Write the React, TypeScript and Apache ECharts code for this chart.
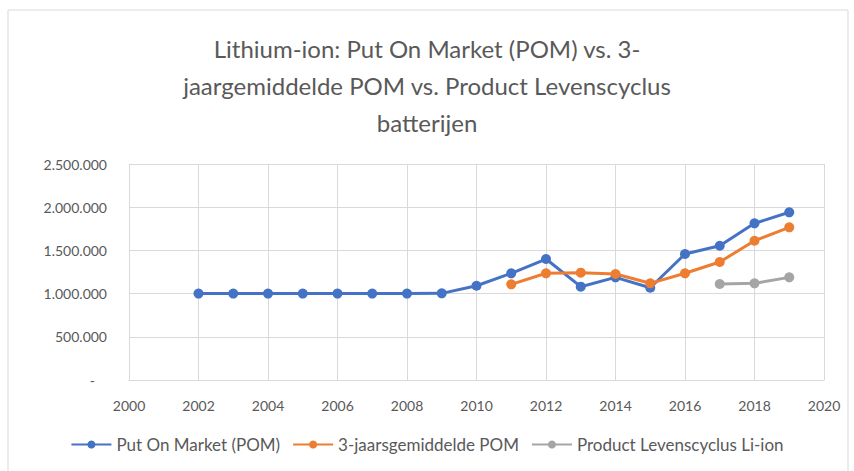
import React, { useEffect, useRef } from "react";
import * as echarts from "echarts";

const titleText = "Lithium-ion: Put On Market (POM) vs. 3-\njaargemiddelde POM vs. Product Levenscyclus\nbatterijen";

const pomYears = [2002, 2003, 2004, 2005, 2006, 2007, 2008, 2009, 2010, 2011, 2012, 2013, 2014, 2015, 2016, 2017, 2018, 2019];
const pomValues = [1000000, 1000000, 1000000, 1000000, 1000000, 1000000, 1000000, 1003000, 1091000, 1235000, 1400000, 1080000, 1188000, 1068000, 1458000, 1554000, 1813000, 1941000];

const avgYears = [2011, 2012, 2013, 2014, 2015, 2016, 2017, 2018, 2019];
const avgValues = [1107000, 1235000, 1242000, 1227000, 1119000, 1235000, 1366000, 1612000, 1767000];

const lifeYears = [2017, 2018, 2019];
const lifeValues = [1111000, 1119000, 1188000];

const seriesNames = ["Put On Market (POM)", "3-jaarsgemiddelde POM", "Product Levenscyclus Li-ion"];

const FONT = "Lato";
const TEXT = "#595959";
const GRID = "#d9d9d9";

function fmt(v: number): string {
  if (v === 0) return "{dash|-}";
  return String(Math.round(v)).replace(/\B(?=(\d{3})+(?!\d))/g, ".");
}

export default function App() {
  const ref = useRef<HTMLDivElement>(null);
  useEffect(() => {
    if (!ref.current) return;
    const chart = echarts.init(ref.current, undefined, { renderer: "svg" });
    const pair = (xs: number[], ys: number[]) => xs.map((x, i) => [x, ys[i]]);
    const mk = (name: string, color: string, data: number[][]) => ({
      name,
      type: "line",
      data,
      symbol: "circle",
      symbolSize: 10,
      lineStyle: { color, width: 3 },
      itemStyle: { color },
      z: 3,
    });
    chart.setOption({
      animation: false,
      backgroundColor: "#ffffff",
      textStyle: { fontFamily: FONT },
      graphic: [
        {
          type: "rect",
          shape: { x: 8, y: 10, width: 840, height: 470 },
          style: { fill: "none", stroke: GRID, lineWidth: 1 },
          silent: true,
        },
      ],
      title: {
        text: titleText,
        left: "center",
        top: 25,
        textStyle: { fontFamily: FONT, fontSize: 24, fontWeight: "normal", color: TEXT, lineHeight: 37 },
      },
      grid: { left: 129, right: 30, top: 164, bottom: 91 },
      xAxis: {
        type: "value",
        min: 2000,
        max: 2020,
        interval: 2,
        axisLine: { show: true, lineStyle: { color: GRID, width: 1 } },
        axisTick: { show: false },
        splitLine: { show: true, lineStyle: { color: GRID, width: 1 } },
        axisLabel: { color: TEXT, fontSize: 14, fontFamily: FONT, margin: 18, formatter: (v: number) => String(v) },
      },
      yAxis: {
        type: "value",
        min: 0,
        max: 2500000,
        interval: 500000,
        axisLine: { show: false },
        axisTick: { show: false },
        splitLine: { show: true, lineStyle: { color: GRID, width: 1 } },
        axisLabel: {
          color: TEXT,
          fontSize: 14,
          fontFamily: FONT,
          margin: 22,
          formatter: fmt,
          rich: { dash: { color: TEXT, fontSize: 14, fontFamily: FONT, padding: [0, 12, 0, 0] } },
        },
      },
      legend: {
        bottom: 13,
        left: "center",
        itemWidth: 40,
        itemHeight: 10,
        itemGap: 12,
        textStyle: { color: TEXT, fontSize: 17, fontFamily: FONT },
        data: seriesNames,
      },
      series: [
        mk(seriesNames[0], "#4472C4", pair(pomYears, pomValues)),
        mk(seriesNames[1], "#ED7D31", pair(avgYears, avgValues)),
        mk(seriesNames[2], "#A5A5A5", pair(lifeYears, lifeValues)),
      ],
    });
    return () => chart.dispose();
  }, []);
  return <div ref={ref} style={{ position: "fixed", left: 0, top: 0, width: 854, height: 471 }} />;
}
